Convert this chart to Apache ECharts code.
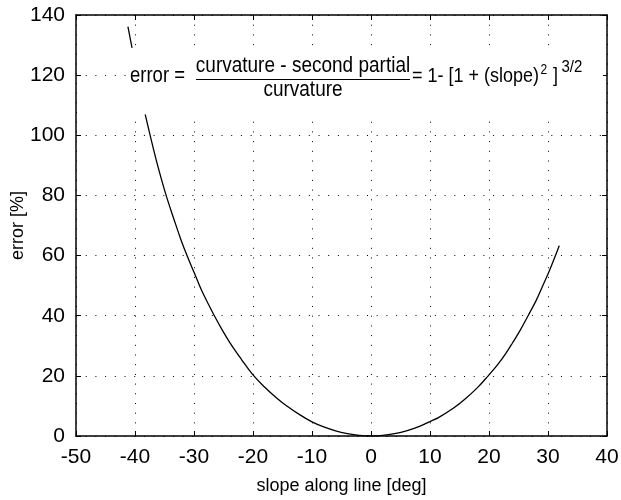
<!DOCTYPE html>
<html>
<head>
<meta charset="utf-8">
<script src="https://cdn.jsdelivr.net/npm/echarts@6/dist/echarts.min.js"></script>
<style>
	html, body { margin: 0; padding: 0; background: #fff; }
	#myCharts { width: 621px; height: 500px; }
</style>
</head>
<body>
<div id="myCharts"></div>
<script>
// values; null marks where the curve disappears behind the formula
const slopeDeg = [-41.2, -40.5, null, -38.3, -37.4, -36.3, -34.8, -33.4, -32.2, -31.1, -29.9, -28.7, -26.5, -25.2, -23.9, -22, -20, -18, -16, -14.9, -12.1, -10, -8, -6, -4, -2, 0, 2, 4, 6, 8, 10, 11.5, 14, 16, 18, 19.9, 21.5, 22.8, 24, 25.3, 26.6, 28, 29, 30.2, 31.3, 31.9]
const errorPct = [136.1, 129.1, null, 107.2, 99.7, 91, 80.5, 72.1, 65.2, 59.6, 54, 48.4, 39.8, 35.2, 31, 25.6, 20.3, 16.2, 12.6, 10.9, 7.1, 4.7, 3, 1.7, 0.8, 0.2, 0, 0.2, 0.8, 1.7, 3, 4.8, 6.2, 9.3, 12.4, 16, 20.1, 23.8, 27.3, 31, 35.2, 39.9, 45.1, 49.5, 54.8, 60.2, 63.3]
const xTicks = [-50, 40, 10]   // min, max, interval
const yTicks = [0, 140, 20]

const font = "'Liberation Sans', Arial, Helvetica, sans-serif"

const init = () => {
	let chart = echarts.init(document.getElementById("myCharts"), null, { renderer: "canvas" })

	const curve = slopeDeg.map((x, i) => (x === null ? ["-", "-"] : [x, errorPct[i]]))

	const frame = { show: true, onZero: false, lineStyle: { color: "#000", width: 1.5 } }
	const grid = { show: true, lineStyle: { color: "#000", width: 1, type: [1, 8.7] } }
	const tick = { show: true, inside: true, length: 5, lineStyle: { color: "#000" } }
	const eq = (text, x, y, size, align) => ({
		type: "text",
		z: 101,
		x: x,
		y: y,
		scaleY: 1.15,
		style: { text: text, font: size + "px " + font, fill: "#000", align: align || "left", verticalAlign: "middle" }
	})

	let option = {
		backgroundColor: "#fff",
		animation: false,
		textStyle: { fontFamily: font },
		grid: { left: 76, right: 14, top: 15, bottom: 64, outerBoundsMode: "none", containLabel: false },
		xAxis: [
			{
				type: "value",
				min: xTicks[0],
				max: xTicks[1],
				interval: xTicks[2],
				position: "bottom",
				axisLine: frame,
				axisTick: tick,
				axisLabel: { color: "#000", fontSize: 21, margin: 11, fontFamily: font },
				splitLine: grid,
				name: "slope along line [deg]",
				nameLocation: "middle",
				nameGap: 41,
				nameMoveOverlap: false,
				nameTextStyle: { color: "#000", fontSize: 18, fontFamily: font }
			},
			{
				type: "value",
				min: xTicks[0],
				max: xTicks[1],
				interval: xTicks[2],
				position: "top",
				axisLine: frame,
				axisTick: tick,
				axisLabel: { show: false },
				splitLine: { show: false }
			}
		],
		yAxis: [
			{
				type: "value",
				min: yTicks[0],
				max: yTicks[1],
				interval: yTicks[2],
				position: "left",
				axisLine: frame,
				axisTick: tick,
				axisLabel: { color: "#000", fontSize: 21, margin: 11, fontFamily: font },
				splitLine: grid,
				name: "error [%]",
				nameLocation: "middle",
				nameGap: 49,
				nameMoveOverlap: false,
				nameTextStyle: { color: "#000", fontSize: 18, fontFamily: font }
			},
			{
				type: "value",
				min: yTicks[0],
				max: yTicks[1],
				interval: yTicks[2],
				position: "right",
				axisLine: frame,
				axisTick: tick,
				axisLabel: { show: false },
				splitLine: { show: false }
			}
		],
		series: [
			{
				type: "line",
				data: curve,
				showSymbol: false,
				connectNulls: false,
				smooth: 0.4,
				lineStyle: { color: "#000", width: 1.3 }
			}
		],
		graphic: [
			{
				type: "group",
				z: 100,
				children: [
					{ type: "rect", z: 100, shape: { x: 127, y: 48.5, width: 476, height: 66 }, style: { fill: "#fff" } },
					eq("error =", 130, 76, 18.5),
					eq("curvature - second partial", 303, 66, 19, "center"),
					{ type: "line", z: 101, shape: { x1: 196, y1: 79.5, x2: 410, y2: 79.5 }, style: { stroke: "#000", lineWidth: 1 } },
					eq("curvature", 303, 90, 19, "center"),
					eq("= 1- [1 + (slope)", 412, 76, 18),
					eq("2", 540.5, 70.5, 12),
					eq("]", 553, 76, 18),
					eq("3/2", 561.5, 67.5, 15)
				]
			}
		]
	}
	chart.setOption(option)
}
init()
</script>
</body>
</html>
